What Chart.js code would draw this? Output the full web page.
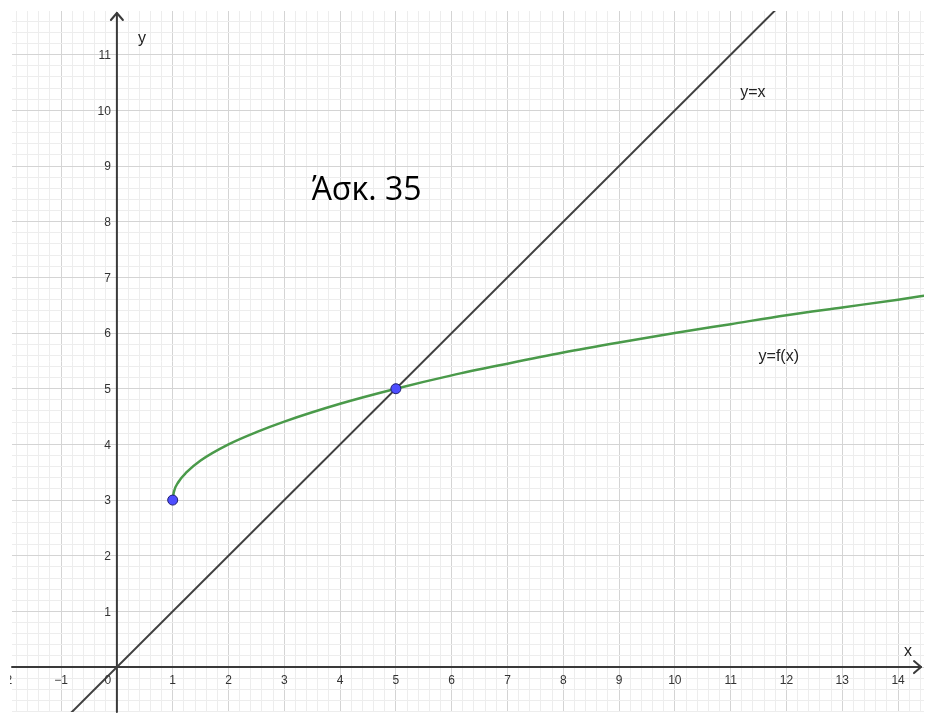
<!DOCTYPE html>
<html>
<head>
<meta charset="utf-8">
<script src="https://cdn.jsdelivr.net/npm/chart.js@4"></script>
<style>
  html, body { margin: 0; padding: 0; background: #ffffff; overflow: hidden; }
  #wrap { width: 930px; height: 718px; position: relative; }
</style>
</head>
<body>
<div id="wrap"><canvas id="c"></canvas></div>
<script>
// ---- data ----
const identityX = [-1, 12];
const identityY = [-1, 12];
const curveX = [1, 1.02, 1.1, 1.25, 1.5, 2, 2.5, 3, 4, 5, 6, 7, 8, 9, 10, 11, 12, 13, 14, 14.6];
const curveY = [3, 3.14, 3.32, 3.5, 3.71, 4, 4.22, 4.41, 4.73, 5, 5.24, 5.45, 5.65, 5.83, 6, 6.16, 6.32, 6.46, 6.6, 6.69];
const pointX = [1, 5];
const pointY = [3, 5];
const xTickValues = [-2, -1, 0, 1, 2, 3, 4, 5, 6, 7, 8, 9, 10, 11, 12, 13, 14];
const xTickLabels = ['−2', '−1', '0', '1', '2', '3', '4', '5', '6', '7', '8', '9', '10', '11', '12', '13', '14'];
const yTickValues = [1, 2, 3, 4, 5, 6, 7, 8, 9, 10, 11];
const yTickLabels = ['1', '2', '3', '4', '5', '6', '7', '8', '9', '10', '11'];
const titleText = 'Άσκ. 35';
const identityLabel = 'y=x';
const curveLabel = 'y=f(x)';
const xAxisTitle = 'x';
const yAxisTitle = 'y';

const toXY = (xs, ys) => xs.map((x, i) => ({ x: x, y: ys[i] }));

function gridTicks(axis) {
  const t = [];
  for (let i = Math.ceil(axis.min * 5); i <= Math.floor(axis.max * 5); i++) t.push({ value: i / 5 });
  axis.ticks = t;
}
function gridColor(ctx) {
  const v = ctx.tick ? ctx.tick.value : 0;
  const k = Math.round(v * 5);
  return (k % 5 === 0) ? '#d4d4d4' : '#ededed';
}

const geoPlugin = {
  id: 'geo',
  beforeDatasetsDraw(chart) {
    const c = chart.ctx, xs = chart.scales.x, ys = chart.scales.y, a = chart.chartArea;
    const x0 = xs.getPixelForValue(0), y0 = ys.getPixelForValue(0);
    c.save();
    c.strokeStyle = '#3a3a3a';
    c.lineWidth = 2;
    c.lineCap = 'round';
    c.lineJoin = 'round';
    // x axis
    c.beginPath();
    c.moveTo(a.left, y0); c.lineTo(a.right - 3, y0);
    c.stroke();
    c.beginPath();
    c.moveTo(a.right - 10, y0 - 6); c.lineTo(a.right - 3, y0); c.lineTo(a.right - 10, y0 + 6);
    c.stroke();
    // y axis
    c.beginPath();
    c.moveTo(x0, a.bottom); c.lineTo(x0, a.top + 2);
    c.stroke();
    c.beginPath();
    c.moveTo(x0 - 6, a.top + 9); c.lineTo(x0, a.top + 2); c.lineTo(x0 + 6, a.top + 9);
    c.stroke();
    c.restore();
  },
  afterDatasetsDraw(chart) {
    const c = chart.ctx, xs = chart.scales.x, ys = chart.scales.y, a = chart.chartArea;
    const x0 = xs.getPixelForValue(0), y0 = ys.getPixelForValue(0);
    c.save();
    c.beginPath();
    c.rect(a.left - 2, 0, a.right - a.left + 10, 713);
    c.clip();
    c.fillStyle = '#333333';
    c.font = '12px "Liberation Sans", Arial, sans-serif';
    c.textBaseline = 'top';
    c.textAlign = 'center';
    xTickValues.forEach((v, i) => {
      let px = xs.getPixelForValue(v);
      if (v === 0) px -= 9;
      c.fillText(xTickLabels[i], px, y0 + 8);
    });
    c.textAlign = 'right';
    c.textBaseline = 'middle';
    yTickValues.forEach((v, i) => {
      c.fillText(yTickLabels[i], x0 - 6, ys.getPixelForValue(v) + 1);
    });
    c.restore();

    c.save();
    c.fillStyle = '#222222';
    c.textBaseline = 'alphabetic';
    c.textAlign = 'left';
    c.font = '16px "Liberation Sans", Arial, sans-serif';
    c.fillText(yAxisTitle, x0 + 21, a.top + 32);
    c.fillText(xAxisTitle, a.right - 20, y0 - 11);
    c.fillText(identityLabel, xs.getPixelForValue(11.17), ys.getPixelForValue(10.24));
    c.fillText(curveLabel, xs.getPixelForValue(11.5), ys.getPixelForValue(5.49));
    c.fillStyle = '#000000';
    c.font = '32px "Open Sans", "Liberation Sans", sans-serif';
    c.fillText(titleText, xs.getPixelForValue(3.49), ys.getPixelForValue(8.39));
    c.restore();
  }
};

new Chart(document.getElementById('c'), {
  type: 'scatter',
  data: {
    datasets: [
      {
        data: toXY(pointX, pointY),
        showLine: false,
        pointRadius: 5,
        pointHoverRadius: 5,
        pointBackgroundColor: '#4d4dff',
        pointBorderColor: '#1e1e70',
        pointBorderWidth: 1
      },
      {
        data: toXY(curveX, curveY),
        showLine: true,
        borderColor: '#4a9a4a',
        borderWidth: 2.5,
        pointRadius: 0,
        cubicInterpolationMode: 'monotone',
        fill: false
      },
      {
        data: toXY(identityX, identityY),
        showLine: true,
        borderColor: '#404040',
        borderWidth: 2,
        pointRadius: 0,
        fill: false
      }
    ]
  },
  options: {
    responsive: true,
    maintainAspectRatio: false,
    animation: false,
    events: [],
    layout: { padding: { left: 12, top: 11, right: 5, bottom: 0 } },
    plugins: { legend: { display: false }, tooltip: { enabled: false } },
    scales: {
      x: {
        type: 'linear',
        min: -1.88, max: 14.465,
        afterBuildTicks: gridTicks,
        afterFit(s) { s.height = 0; s.paddingLeft = 0; s.paddingRight = 0; },
        ticks: { display: false },
        grid: { color: gridColor, lineWidth: 1, drawTicks: false },
        border: { display: false }
      },
      y: {
        type: 'linear',
        min: -0.807, max: 11.785,
        afterBuildTicks: gridTicks,
        afterFit(s) { s.width = 0; s.paddingTop = 0; s.paddingBottom = 0; },
        ticks: { display: false },
        grid: { color: gridColor, lineWidth: 1, drawTicks: false },
        border: { display: false }
      }
    }
  },
  plugins: [geoPlugin]
});
</script>
</body>
</html>
